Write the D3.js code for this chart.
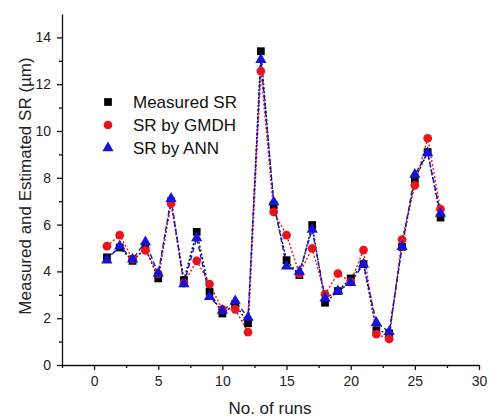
<!DOCTYPE html>
<html lang="en">
<head>
  <meta charset="utf-8">
  <title>SR chart</title>
  <script src="https://cdn.jsdelivr.net/npm/d3@7"></script>
  <style>
    body { margin: 0; background: #fff; }
    svg { font-family: "Liberation Sans", Arial, sans-serif; }
  </style>
</head>
<body>
  <svg id="svg" width="491" height="418"></svg>
  <script>
    var runs = d3.range(1, 28);
    var measured = [4.6, 5.02, 4.45, 5.0, 3.7, 7.0, 3.63, 5.69, 3.13, 2.2, 2.6, 1.78, 13.41, 6.83, 4.48, 3.84, 5.98, 2.66, 3.16, 3.7, 4.31, 1.49, 1.35, 5.05, 7.93, 9.1, 6.3];
    var gmdh = [5.08, 5.55, 4.52, 4.9, 3.9, 6.9, 3.5, 4.45, 3.46, 2.38, 2.38, 1.4, 12.56, 6.54, 5.55, 3.9, 4.98, 3.02, 3.91, 3.55, 4.91, 1.32, 1.11, 5.36, 7.68, 9.69, 6.66];
    var ann = [4.48, 5.08, 4.52, 5.26, 3.91, 7.11, 3.46, 5.43, 2.92, 2.33, 2.73, 2.03, 13.05, 6.97, 4.22, 3.98, 5.79, 2.85, 3.16, 3.51, 4.31, 1.81, 1.42, 5.05, 8.14, 9.06, 6.47];
    var xTicks = [0, 5, 10, 15, 20, 25, 30];
    var yTicks = [0, 2, 4, 6, 8, 10, 12, 14];

    var svg = d3.select('#svg');
    var x = d3.scaleLinear().domain([-2.5, 30]).range([62, 479]);
    var y = d3.scaleLinear().domain([0, 15]).range([365, 14]);

    // axes, major + minor ticks
    var xAxis = d3.axisBottom(x).tickValues(xTicks).tickSize(5).tickPadding(6).tickSizeOuter(0);
    svg.append('g').attr('transform', 'translate(0,365)').call(xAxis);
    svg.append('g').attr('transform', 'translate(0,365)')
      .call(d3.axisBottom(x).tickValues(d3.range(-2.5, 30, 5)).tickSize(3).tickFormat('').tickSizeOuter(0))
      .select('.domain').remove();

    var yAxis = d3.axisLeft(y).tickValues(yTicks).tickSize(5).tickPadding(6).tickSizeOuter(0);
    svg.append('g').attr('transform', 'translate(62,0)').call(yAxis);
    svg.append('g').attr('transform', 'translate(62,0)')
      .call(d3.axisLeft(y).tickValues(d3.range(1, 15, 2)).tickSize(3).tickFormat('').tickSizeOuter(0))
      .select('.domain').remove();

    svg.selectAll('.tick text').attr('font-size', 14).attr('fill', '#222').attr('font-family', '"Liberation Sans", Arial, sans-serif');
    svg.selectAll('.domain, .tick line').attr('stroke', '#111').attr('stroke-width', 1.3);

    svg.append('text').attr('x', 270).attr('y', 414).attr('text-anchor', 'middle')
      .attr('font-size', 17).attr('fill', '#222').text('No. of runs');
    svg.append('text').attr('transform', 'translate(31,186) rotate(-90)').attr('text-anchor', 'middle')
      .attr('font-size', 17).attr('fill', '#222').text('Measured and Estimated SR (µm)');

    var series = [
      { name: 'Measured SR', values: measured, color: '#000', dash: '2,2', shape: d3.symbolSquare, size: 60 },
      { name: 'SR by GMDH', values: gmdh, color: '#e8131b', dash: '2,2', shape: d3.symbolCircle, size: 60 },
      { name: 'SR by ANN', values: ann, color: '#1414d8', dash: '5,3', shape: d3.symbolTriangle, size: 55 }
    ];

    var line = d3.line().x((d, i) => x(runs[i])).y(d => y(d));

    series.forEach(s => {
      svg.append('path').attr('d', line(s.values)).attr('fill', 'none')
        .attr('stroke', s.color).attr('stroke-width', 1.4).attr('stroke-dasharray', s.dash);
    });
    series.forEach(s => {
      svg.append('g').selectAll('path').data(s.values).enter().append('path')
        .attr('transform', (d, i) => `translate(${x(runs[i])},${y(d)})`)
        .attr('d', d3.symbol().type(s.shape).size(s.size))
        .attr('fill', s.color);
    });

    // legend
    var leg = svg.append('g');
    series.forEach((s, i) => {
      var ly = 102 + i * 23;
      leg.append('path').attr('transform', `translate(108,${ly})`)
        .attr('d', d3.symbol().type(s.shape).size(s.size)).attr('fill', s.color);
      leg.append('text').attr('x', 133).attr('y', ly + 6).attr('font-size', 17)
        .attr('fill', '#111').text(s.name);
    });
  </script>
</body>
</html>
